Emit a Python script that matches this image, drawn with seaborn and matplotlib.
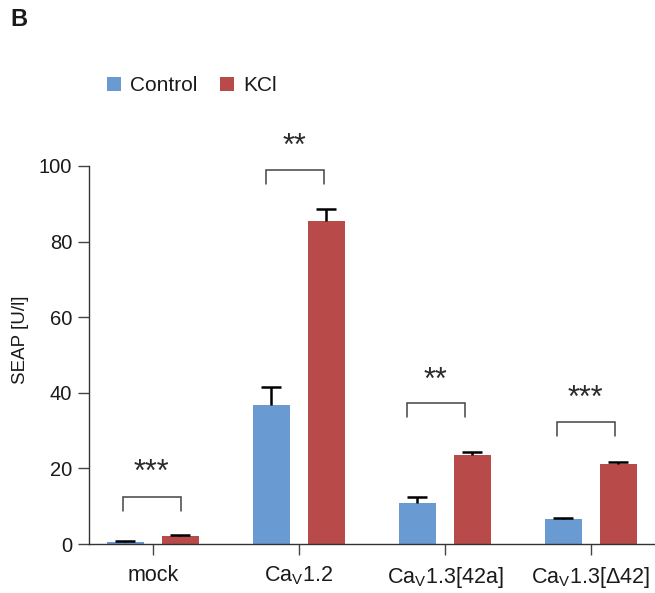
import matplotlib
matplotlib.use("Agg")
import matplotlib.pyplot as plt
import numpy as np
import pandas as pd
import seaborn as sns

# ---- data -------------------------------------------------------------
groups = ["mock", "Cav1.2", "Cav1.3[42a]", "Cav1.3[d42]"]
tick_labels = [
    "mock",
    "Ca$_{\\mathregular{V}}$1.2",
    "Ca$_{\\mathregular{V}}$1.3[42a]",
    "Ca$_{\\mathregular{V}}$1.3[\u039442]",
]
conditions = ["Control", "KCl"]
control_mean = [0.4, 36.8, 10.9, 6.6]
control_sem = [0.3, 4.7, 1.5, 0.4]
kcl_mean = [2.2, 85.5, 23.5, 21.2]
kcl_sem = [0.3, 3.2, 0.8, 0.6]
significance = ["***", "**", "**", "***"]
bracket_top = [12.4, 98.9, 37.3, 32.3]
star_baseline = [16.6, 102.8, 40.9, 36.2]
y_ticks = [0, 20, 40, 60, 80, 100]

colors = {"Control": "#699AD1", "KCl": "#B84A4A"}

df = pd.DataFrame({
    "group": groups * 2,
    "condition": ["Control"] * 4 + ["KCl"] * 4,
    "SEAP": control_mean + kcl_mean,
})

# ---- style ------------------------------------------------------------
sns.set_style("ticks")
plt.rcParams["font.family"] = ["Liberation Sans", "DejaVu Sans"]
plt.rcParams["mathtext.fontset"] = "custom"
plt.rcParams["mathtext.rm"] = "Liberation Sans"
plt.rcParams["mathtext.it"] = "Liberation Sans:italic"
plt.rcParams["mathtext.bf"] = "Liberation Sans:bold"

fig = plt.figure(figsize=(6.55, 5.93), dpi=100)
ax = fig.add_axes([89 / 655, 49 / 593, 566 / 655, 438.5 / 593])

sns.barplot(
    data=df, x="group", y="SEAP", hue="condition", order=groups,
    hue_order=conditions, palette=colors, width=0.754, gap=0.33,
    errorbar=None, saturation=1, ax=ax, linewidth=0,
)

# upward-only error bars: stem plus a single top cap
for container, means, sems in zip(ax.containers, [control_mean, kcl_mean],
                                  [control_sem, kcl_sem]):
    xs = np.array([p.get_x() + p.get_width() / 2 for p in container.patches])
    tops = np.array(means) + np.array(sems)
    ax.vlines(xs, means, tops, colors="black", lw=1.8, zorder=3)
    ax.plot(xs, tops, ls="none", marker="_", markersize=13.7,
            mew=1.8, color="black", zorder=3)

# significance brackets
bracket_left = [-0.205, -0.226, -0.26, -0.233]
bracket_right = [0.19, 0.171, 0.137, 0.164]
leg = 3.6
for i, (stars, top, sb) in enumerate(zip(significance, bracket_top, star_baseline)):
    x0, x1 = i + bracket_left[i], i + bracket_right[i]
    ax.plot([x0, x0, x1, x1], [top - leg, top, top, top - leg],
            color="#444444", lw=1.1, solid_joinstyle="miter", zorder=3)
    ax.text((x0 + x1) / 2, sb, stars, ha="center", va="baseline",
            fontsize=22, color="#2a2a2a")

# axes
ax.set_xlim(-0.438, 3.44)
ax.set_ylim(0, 116)
ax.set_yticks(y_ticks)
ax.set_xticks(range(len(groups)))
ax.set_xticklabels(tick_labels)
ax.set_xlabel("")
ax.set_ylabel("")
sns.despine(ax=ax)
ax.spines["left"].set_bounds(0, 100)
for s in ("left", "bottom"):
    ax.spines[s].set_color("#333333")
    ax.spines[s].set_linewidth(1.0)
ax.tick_params(axis="both", direction="out", length=8, width=1.0,
               color="#444444", labelsize=14.5, labelcolor="#1a1a1a")
ax.tick_params(axis="x", pad=7, labelsize=15.5)
ax.tick_params(axis="y", pad=4)

fig.text(21 / 655, 1 - 340 / 593, "SEAP [U/l]", rotation=90, ha="center",
         va="center", fontsize=13.5, color="#1a1a1a")

# legend
handles, labels = ax.get_legend_handles_labels()
if ax.get_legend() is not None:
    ax.get_legend().remove()
fig.legend(handles, labels, loc="center left",
           bbox_to_anchor=(107 / 655, 1 - 85.5 / 593), ncol=2,
           frameon=False, fontsize=15, borderpad=0, borderaxespad=0,
           handlelength=0.67, handleheight=0.67, handletextpad=0.45,
           columnspacing=1.05, labelcolor="#1a1a1a")

fig.text(10 / 655, 1 - 8 / 593, "B", ha="left", va="top", fontsize=17,
         fontweight="bold", color="#1a1a1a")

fig.savefig("out.png", dpi=100, facecolor="white")
